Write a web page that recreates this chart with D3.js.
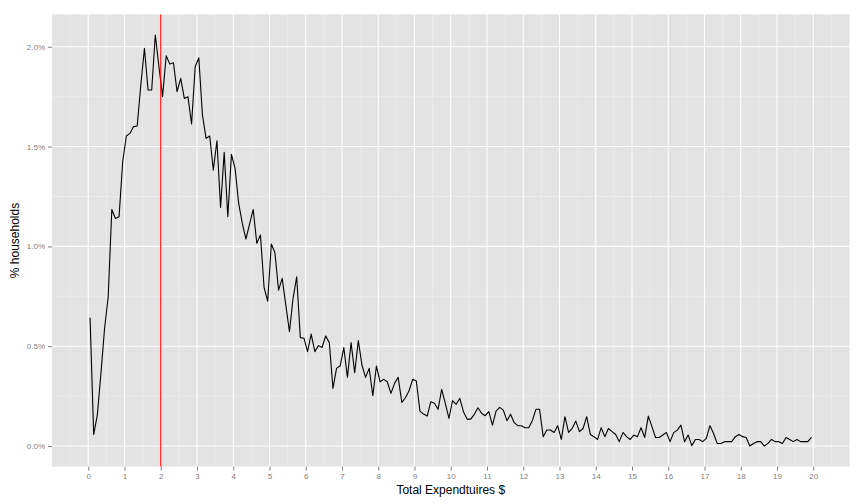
<!DOCTYPE html>
<html>
<head>
<meta charset="utf-8">
<script src="https://cdn.jsdelivr.net/npm/d3@7"></script>
<style>
  html, body { margin: 0; padding: 0; background: #ffffff; }
  svg { display: block; font-family: "Liberation Sans", Arial, Helvetica, sans-serif; }
</style>
</head>
<body>
<svg id="chart" width="864" height="504"></svg>
<script>
// Bin midpoints of total expenditures ($)
const binMidpoints = [
  0.05, 0.15, 0.25, 0.35, 0.45, 0.55, 0.65, 0.75, 0.85, 0.95,
  1.05, 1.15, 1.25, 1.35, 1.45, 1.55, 1.65, 1.75, 1.85, 1.95,
  2.05, 2.15, 2.25, 2.35, 2.45, 2.55, 2.65, 2.75, 2.85, 2.95,
  3.05, 3.15, 3.25, 3.35, 3.45, 3.55, 3.65, 3.75, 3.85, 3.95,
  4.05, 4.15, 4.25, 4.35, 4.45, 4.55, 4.65, 4.75, 4.85, 4.95,
  5.05, 5.15, 5.25, 5.35, 5.45, 5.55, 5.65, 5.75, 5.85, 5.95,
  6.05, 6.15, 6.25, 6.35, 6.45, 6.55, 6.65, 6.75, 6.85, 6.95,
  7.05, 7.15, 7.25, 7.35, 7.45, 7.55, 7.65, 7.75, 7.85, 7.95,
  8.05, 8.15, 8.25, 8.35, 8.45, 8.55, 8.65, 8.75, 8.85, 8.95,
  9.05, 9.15, 9.25, 9.35, 9.45, 9.55, 9.65, 9.75, 9.85, 9.95,
  10.05, 10.15, 10.25, 10.35, 10.45, 10.55, 10.65, 10.75, 10.85, 10.95,
  11.05, 11.15, 11.25, 11.35, 11.45, 11.55, 11.65, 11.75, 11.85, 11.95,
  12.05, 12.15, 12.25, 12.35, 12.45, 12.55, 12.65, 12.75, 12.85, 12.95,
  13.05, 13.15, 13.25, 13.35, 13.45, 13.55, 13.65, 13.75, 13.85, 13.95,
  14.05, 14.15, 14.25, 14.35, 14.45, 14.55, 14.65, 14.75, 14.85, 14.95,
  15.05, 15.15, 15.25, 15.35, 15.45, 15.55, 15.65, 15.75, 15.85, 15.95,
  16.05, 16.15, 16.25, 16.35, 16.45, 16.55, 16.65, 16.75, 16.85, 16.95,
  17.05, 17.15, 17.25, 17.35, 17.45, 17.55, 17.65, 17.75, 17.85, 17.95,
  18.05, 18.15, 18.25, 18.35, 18.45, 18.55, 18.65, 18.75, 18.85, 18.95,
  19.05, 19.15, 19.25, 19.35, 19.45, 19.55, 19.65, 19.75, 19.85, 19.95
];

// % of households in each bin
const pctHouseholds = [
  0.643, 0.058, 0.155, 0.364, 0.589, 0.748, 1.185, 1.140, 1.149, 1.424,
  1.553, 1.566, 1.600, 1.603, 1.808, 1.992, 1.783, 1.783, 2.059, 1.900,
  1.750, 1.955, 1.913, 1.920, 1.775, 1.842, 1.741, 1.750, 1.613, 1.900,
  1.945, 1.658, 1.541, 1.553, 1.382, 1.529, 1.195, 1.471, 1.149, 1.461,
  1.391, 1.215, 1.115, 1.037, 1.112, 1.185, 1.015, 1.057, 0.795, 0.726,
  1.012, 0.968, 0.781, 0.840, 0.706, 0.573, 0.740, 0.848, 0.543, 0.540,
  0.473, 0.561, 0.473, 0.503, 0.494, 0.551, 0.518, 0.289, 0.389, 0.402,
  0.493, 0.344, 0.518, 0.367, 0.528, 0.406, 0.344, 0.389, 0.252, 0.401,
  0.322, 0.334, 0.322, 0.264, 0.314, 0.344, 0.219, 0.242, 0.277, 0.334,
  0.326, 0.175, 0.160, 0.150, 0.222, 0.214, 0.184, 0.284, 0.214, 0.139,
  0.227, 0.209, 0.239, 0.172, 0.135, 0.135, 0.159, 0.192, 0.164, 0.152,
  0.172, 0.105, 0.175, 0.194, 0.180, 0.127, 0.159, 0.117, 0.102, 0.102,
  0.092, 0.092, 0.127, 0.184, 0.184, 0.047, 0.080, 0.080, 0.068, 0.102,
  0.033, 0.147, 0.068, 0.088, 0.125, 0.072, 0.088, 0.147, 0.058, 0.047,
  0.033, 0.092, 0.047, 0.088, 0.072, 0.058, 0.022, 0.068, 0.047, 0.033,
  0.055, 0.047, 0.092, 0.043, 0.150, 0.097, 0.043, 0.043, 0.055, 0.068,
  0.022, 0.067, 0.080, 0.105, 0.022, 0.055, 0.002, 0.033, 0.033, 0.022,
  0.038, 0.102, 0.063, 0.013, 0.013, 0.022, 0.022, 0.022, 0.047, 0.058,
  0.047, 0.043, 0.000, 0.013, 0.022, 0.022, 0.000, 0.013, 0.033, 0.022,
  0.022, 0.013, 0.043, 0.033, 0.022, 0.033, 0.022, 0.022, 0.022, 0.043
];

const xTicks = [0,1,2,3,4,5,6,7,8,9,10,11,12,13,14,15,16,17,18,19,20];
const xMinor = [-0.5,0.5,1.5,2.5,3.5,4.5,5.5,6.5,7.5,8.5,9.5,10.5,11.5,12.5,13.5,14.5,15.5,16.5,17.5,18.5,19.5,20.5];
const yTicks = [0, 0.5, 1.0, 1.5, 2.0];
const yMinor = [0.25, 0.75, 1.25, 1.75];
const markerValue = [2];

const xTitle = "Total Expendtuires $";
const yTitle = "% households";

const data = binMidpoints.map((x, i) => ({ x: x, y: pctHouseholds[i] }));

const svg = d3.select("#chart");
const panel = { left: 52, right: 849.5, top: 14.4, bottom: 466.6 };

// ggplot-style 5% expansion
const xExt = [0, 20];
const xPad = (xExt[1] - xExt[0]) * 0.05;
const yExt = d3.extent(pctHouseholds);
const yPad = (yExt[1] - yExt[0]) * 0.05;

const x = d3.scaleLinear().domain([xExt[0] - xPad, xExt[1] + xPad]).range([panel.left, panel.right]);
const y = d3.scaleLinear().domain([yExt[0] - yPad, yExt[1] + yPad]).range([panel.bottom, panel.top]);

// panel background
svg.append("rect")
  .attr("x", panel.left).attr("y", panel.top)
  .attr("width", panel.right - panel.left).attr("height", panel.bottom - panel.top)
  .attr("fill", "#e3e3e3");

// minor grid
const g = svg.append("g");
g.selectAll(".xminor").data(xMinor).enter().append("line")
  .attr("x1", d => x(d)).attr("x2", d => x(d))
  .attr("y1", panel.top).attr("y2", panel.bottom)
  .attr("stroke", "#f0f0f0").attr("stroke-width", 0.6);
g.selectAll(".yminor").data(yMinor).enter().append("line")
  .attr("y1", d => y(d)).attr("y2", d => y(d))
  .attr("x1", panel.left).attr("x2", panel.right)
  .attr("stroke", "#f0f0f0").attr("stroke-width", 0.6);
// major grid
g.selectAll(".xmajor").data(xTicks).enter().append("line")
  .attr("x1", d => x(d)).attr("x2", d => x(d))
  .attr("y1", panel.top).attr("y2", panel.bottom)
  .attr("stroke", "#ffffff").attr("stroke-width", 1.1);
g.selectAll(".ymajor").data(yTicks).enter().append("line")
  .attr("y1", d => y(d)).attr("y2", d => y(d))
  .attr("x1", panel.left).attr("x2", panel.right)
  .attr("stroke", "#ffffff").attr("stroke-width", 1.1);

// data line
const line = d3.line().x(d => x(d.x)).y(d => y(d.y));
svg.append("path")
  .datum(data)
  .attr("d", line)
  .attr("fill", "none")
  .attr("stroke", "#000000")
  .attr("stroke-width", 1.1)
  .attr("stroke-linejoin", "round");

// vertical red marker
svg.selectAll(".marker").data(markerValue).enter().append("line")
  .attr("x1", d => x(d)).attr("x2", d => x(d))
  .attr("y1", panel.top).attr("y2", panel.bottom)
  .attr("stroke", "#ff0000").attr("stroke-width", 1.1);

// axes
const xAxis = d3.axisBottom(x).tickValues(xTicks).tickSize(4).tickPadding(3).tickFormat(d3.format("d"));
const yAxis = d3.axisLeft(y).tickValues(yTicks).tickSize(4).tickPadding(3).tickFormat(d => d.toFixed(1) + "%");

const xg = svg.append("g").attr("transform", `translate(0,${panel.bottom})`).call(xAxis);
const yg = svg.append("g").attr("transform", `translate(${panel.left},0)`).call(yAxis);
[xg, yg].forEach(a => {
  a.select(".domain").remove();
  a.selectAll(".tick line").attr("stroke", "#7f7f7f").attr("stroke-width", 1);
  a.selectAll(".tick text").attr("fill", "#7f7f7f").attr("font-size", "8px")
    .attr("font-family", "'Liberation Sans', Arial, sans-serif");
});

// titles
svg.append("text")
  .attr("x", (panel.left + panel.right) / 2).attr("y", 494)
  .attr("text-anchor", "middle")
  .attr("font-size", "12px").attr("fill", "#000")
  .text(xTitle);
svg.append("text")
  .attr("transform", `translate(19,${(panel.top + panel.bottom) / 2}) rotate(-90)`)
  .attr("text-anchor", "middle")
  .attr("font-size", "12px").attr("fill", "#000")
  .text(yTitle);
</script>
</body>
</html>
